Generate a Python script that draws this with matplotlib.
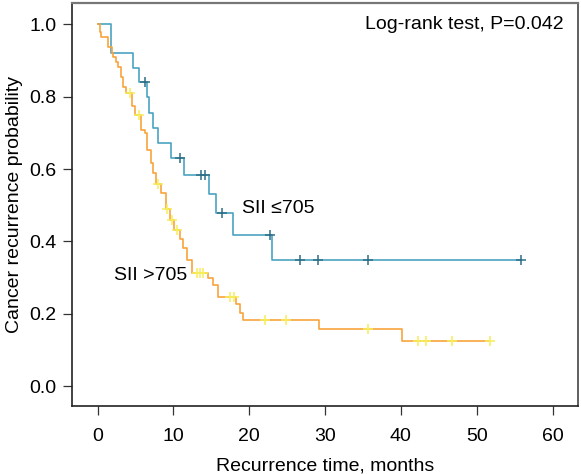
import matplotlib
matplotlib.use("Agg")
import matplotlib.pyplot as plt

plt.rcParams["font.family"] = ["Liberation Sans", "DejaVu Sans"]

# SII <= 705 group: event times (months) and survival after each step
low_times = [0, 1.7, 4.7, 5.5, 6.55, 6.8, 7.25, 8.0, 9.67, 11.4, 14.7, 15.6, 17.8, 23.0]
low_surv = [1.0, 0.92, 0.88, 0.84, 0.798, 0.756, 0.714, 0.672, 0.630, 0.585, 0.532, 0.479, 0.419, 0.349]
low_cens_t = [6.25, 10.86, 13.6, 14.2, 16.4, 22.7, 26.7, 29.0, 35.7, 55.8]
low_end = 55.8

# SII > 705 group
high_times = [0, 0.3, 0.5, 1.4, 1.85, 2.06, 2.4, 2.7, 3.07, 3.4, 3.7, 4.5, 4.9, 5.7, 6.2,
              6.5, 7.0, 7.3, 7.7, 8.4, 9.0, 9.5, 10.1, 10.86, 11.3, 11.74, 12.4, 14.6,
              15.25, 15.9, 18.3, 18.8, 19.2, 29.2, 40.1]
high_surv = [1.0, 0.98, 0.964, 0.938, 0.921, 0.91, 0.897, 0.883, 0.855, 0.826, 0.809,
             0.774, 0.749, 0.708, 0.699, 0.652, 0.616, 0.588, 0.56, 0.533, 0.491, 0.459,
             0.431, 0.408, 0.381, 0.348, 0.313, 0.298, 0.279, 0.247, 0.227, 0.203, 0.182,
             0.157, 0.124]
high_cens_t = [4.2, 5.5, 8.0, 9.2, 9.76, 10.4, 13.06, 13.5, 13.9, 17.5, 18.0, 22.1, 24.8,
               35.6, 42.3, 43.3, 46.7, 51.8]
high_end = 51.8


def surv_at(times, surv, t):
    s = surv[0]
    for tt, ss in zip(times, surv):
        if tt <= t:
            s = ss
    return s


fig = plt.figure(figsize=(5.81, 4.74), dpi=100)
ax = fig.add_axes([0.1244, 0.1435, 0.8710, 0.8508])

groups = [
    (low_times, low_surv, low_cens_t, low_end, "#4aa3c2", "#2e6f86"),
    (high_times, high_surv, high_cens_t, high_end, "#f7a43c", "#f6ee5a"),
]
for times, surv, cens, end, color, ccolor in groups:
    ax.step(times + [end], surv + [surv[-1]], where="post", color=color, lw=1.2)
    ax.plot(cens, [surv_at(times, surv, t) for t in cens], "+", color=ccolor,
            ms=7, mew=1.1, zorder=3)

ax.set_xlim(-3.35, 63.4)
ax.set_ylim(-0.055, 1.06)
ax.set_xticks(range(0, 61, 10))
ax.set_yticks([0.0, 0.2, 0.4, 0.6, 0.8, 1.0])
ax.set_yticklabels(["0.0", "0.2", "0.4", "0.6", "0.8", "1.0"])
ax.tick_params(labelsize=14, length=6.5, width=0.9, color="#333333")
ax.tick_params(axis="x", pad=9)
ax.tick_params(axis="y", pad=5)
ax.set_xlabel("Recurrence time, months", fontsize=14, labelpad=9)
ax.set_ylabel("Cancer recurrence probability", fontsize=14, labelpad=4)

for side in ["left", "bottom"]:
    ax.spines[side].set_color("#222222")
    ax.spines[side].set_linewidth(1.2)
ax.spines["top"].set_color("#777777")
ax.spines["top"].set_linewidth(1.6)
ax.spines["right"].set_color("#444444")
ax.spines["right"].set_linewidth(1.2)

ax.text(61.5, 1.0, "Log-rank test, P=0.042", fontsize=14, ha="right", va="center")
ax.text(19.0, 0.49, "SII \u2264705", fontsize=14, ha="left", va="center")
ax.text(2.2, 0.305, "SII >705", fontsize=14, ha="left", va="center")

fig.savefig("out.png", dpi=100)
